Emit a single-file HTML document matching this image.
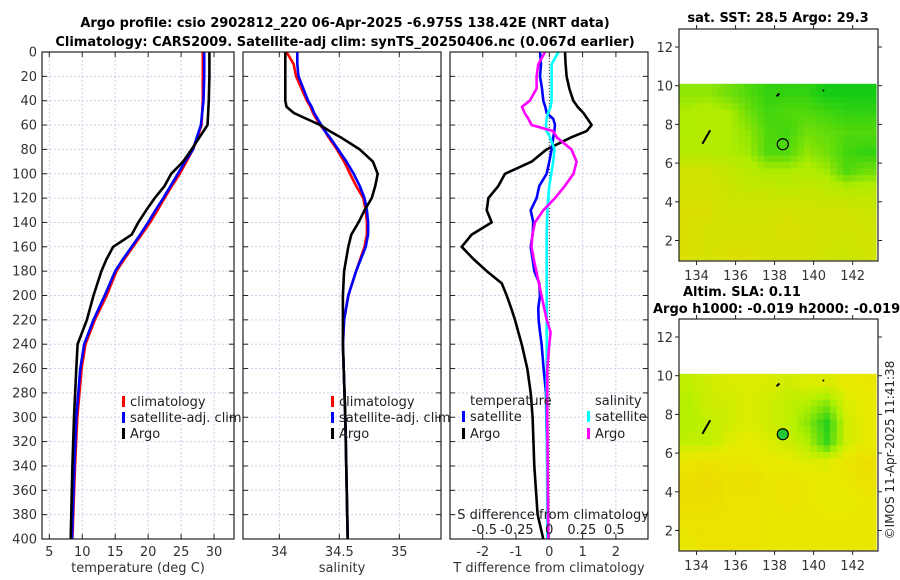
<!DOCTYPE html>
<html><head><meta charset="utf-8"><style>
body{margin:0;background:#fff}
svg{display:block;font-family:"DejaVu Sans","Liberation Sans",sans-serif}
</style></head><body>
<svg id="c" width="900" height="580" viewBox="0 0 900 580" xmlns="http://www.w3.org/2000/svg">
<text x="345" y="27" font-size="13" font-weight="bold" text-anchor="middle" fill="#000">Argo profile: csio 2902812_220 06-Apr-2025 -6.975S 138.42E (NRT data)</text>
<text x="345" y="46" font-size="13" font-weight="bold" text-anchor="middle" fill="#000">Climatology: CARS2009. Satellite-adj clim: synTS_20250406.nc (0.067d earlier)</text>
<text x="778" y="22" font-size="13" font-weight="bold" text-anchor="middle">sat. SST: 28.5 Argo: 29.3</text>
<text x="683" y="296" font-size="13" font-weight="bold">Altim. SLA: 0.11</text>
<text x="653" y="313" font-size="13" font-weight="bold">Argo h1000: -0.019 h2000: -0.019</text>
<text transform="translate(894,450) rotate(-90)" font-size="12" text-anchor="middle" fill="#222">©IMOS 11-Apr-2025 11:41:38</text>
<g id="g"></g>
</svg>
<script>
// ---- profile data ----
const tDepth=[0,20,40,60,70,80,90,100,110,120,130,140,150,160,170,180,200,220,240,260,300,340,400];
const tArgo=[29.3,29.3,29.2,29.0,27.8,26.6,25.3,23.5,22.5,21.0,19.7,18.5,17.5,14.7,13.7,12.9,11.7,10.7,9.3,9.1,8.75,8.5,8.25];
const tClim=[28.3,28.3,28.3,28.1,27.5,26.8,25.8,24.8,23.6,22.5,21.4,20.3,19.0,17.7,16.4,15.2,13.7,11.9,10.5,9.9,9.25,8.9,8.5];
const tSat=[28.5,28.5,28.4,28.0,27.4,26.8,25.6,24.5,23.4,22.3,21.1,20.0,18.8,17.5,16.2,15.0,13.4,11.7,10.3,9.7,9.1,8.8,8.45];
const sDepth=[0,10,20,40,45,50,55,60,65,70,80,90,100,110,120,130,140,150,160,180,200,220,240,300,400];
const sArgo=[34.05,34.05,34.05,34.05,34.06,34.12,34.23,34.34,34.42,34.51,34.67,34.78,34.82,34.80,34.77,34.71,34.66,34.60,34.575,34.54,34.53,34.53,34.53,34.55,34.57];
const sClim=[34.06,34.12,34.14,34.23,34.26,34.28,34.31,34.34,34.38,34.41,34.48,34.54,34.59,34.64,34.70,34.72,34.73,34.73,34.71,34.64,34.575,34.54,34.53,34.55,34.57];
const sSat=[34.15,34.15,34.16,34.24,34.27,34.29,34.32,34.35,34.38,34.42,34.49,34.56,34.62,34.67,34.71,34.73,34.74,34.74,34.72,34.64,34.575,34.54,34.53,34.55,34.57];
const dDepth=[0,10,20,30,40,45,50,55,60,65,70,80,90,100,110,120,130,140,150,160,170,180,190,200,210,220,230,240,260,280,300,340,380,400];
const dTArgo=[0.47,0.49,0.52,0.6,0.72,0.85,1.02,1.15,1.27,1.12,0.67,-0.08,-0.53,-1.33,-1.53,-1.83,-1.88,-1.73,-2.33,-2.63,-2.28,-1.88,-1.43,-1.28,-1.15,-1.03,-0.93,-0.83,-0.66,-0.56,-0.5,-0.45,-0.35,-0.18];
const dTSat=[-0.28,-0.25,-0.28,-0.22,-0.18,-0.12,-0.08,0.12,0.17,0.15,0.12,0.07,0.0,-0.08,-0.3,-0.38,-0.56,-0.48,-0.5,-0.56,-0.5,-0.45,-0.3,-0.28,-0.33,-0.32,-0.28,-0.23,-0.17,-0.1,-0.09,-0.06,-0.04,-0.03];
const dSSat=[0.07,0.018,0.018,0.018,0.018,0.01,-0.01,-0.02,-0.026,-0.02,0.005,0.04,0.03,0.015,0,-0.008,-0.015,-0.018,-0.02,-0.02,-0.02,-0.02,-0.02,-0.02,-0.02,-0.02,-0.02,-0.02,-0.02,-0.02,-0.02,-0.018,-0.016,-0.015];
const dSArgo=[-0.033,-0.085,-0.098,-0.098,-0.15,-0.21,-0.19,-0.16,-0.137,0.03,0.057,0.17,0.21,0.186,0.12,0.044,-0.046,-0.11,-0.13,-0.137,-0.12,-0.1,-0.08,-0.06,-0.04,-0.02,0.01,0.0,-0.015,-0.015,-0.015,-0.012,-0.01,-0.008];
const depthTicks=[0,20,40,60,80,100,120,140,160,180,200,220,240,260,280,300,320,340,360,380,400];
const tTicks=[5,10,15,20,25,30];
const sTicks=[34,34.5,35];
const dTTicks=[-2,-1,0,1,2];
const dSTicks=["-0.5","-0.25","0","0.25","0.5"];
// ---- map data (rows lat 10->1, cols 133.1->143.2) ----
const sstGrid=[
[0.6,0.6,0.7,0.8,0.9,0.9,0.9,1,1,1],
[0.5,0.45,0.5,0.7,0.85,0.8,0.8,0.85,0.9,0.9],
[0.5,0.45,0.5,0.6,0.8,0.85,0.7,0.75,0.8,0.8],
[0.45,0.45,0.5,0.55,0.8,0.8,0.6,0.7,0.85,0.9],
[0.2,0.2,0.3,0.4,0.5,0.5,0.45,0.55,0.8,0.7],
[0.15,0.15,0.25,0.3,0.3,0.35,0.3,0.35,0.4,0.4],
[0.1,0.1,0.2,0.2,0.2,0.15,0.2,0.2,0.2,0.25],
[0.1,0.15,0.15,0.15,0.15,0.1,0.15,0.2,0.2,0.2],
[0.1,0.15,0.1,0.1,0.15,0.15,0.15,0.2,0.25,0.2]];
const slaGrid=[
[0.55,0.5,0.45,0.45,0.45,0.5,0.45,0.45,0.4,0.35],
[0.6,0.5,0.5,0.45,0.5,0.55,0.6,0.7,0.45,0.4],
[0.6,0.55,0.5,0.45,0.5,0.55,0.7,0.95,0.5,0.4],
[0.55,0.55,0.45,0.4,0.45,0.5,0.6,0.9,0.5,0.4],
[0.35,0.3,0.35,0.35,0.4,0.4,0.45,0.45,0.35,0.25],
[0.25,0.2,0.3,0.25,0.35,0.3,0.35,0.4,0.35,0.3],
[0.25,0.25,0.3,0.3,0.35,0.3,0.35,0.4,0.4,0.35],
[0.3,0.3,0.3,0.3,0.35,0.35,0.35,0.35,0.35,0.35],
[0.35,0.3,0.3,0.3,0.35,0.35,0.35,0.35,0.35,0.35]];
const lonTicks=[134,136,138,140,142];
const latTicks=[2,4,6,8,10,12];
const argoLon=138.42, argoLat=6.975;

const NS="http://www.w3.org/2000/svg";
const G=document.getElementById('g');
function mk(tag,at,parent){const e=document.createElementNS(NS,tag);for(const k in at)e.setAttribute(k,at[k]);(parent||G).appendChild(e);return e;}
const Y0=52,Y1=539;
const yD=d=>Y0+(Y1-Y0)*d/400;

function panel(name,x0,x1,fx,xticks,xlabels,xlabel){
  const g=mk('g',{});
  
  
  for(const d of depthTicks){const l=mk('line',{x1:x0,x2:x1,y1:yD(d),y2:yD(d),stroke:'#cdd0ea','stroke-width':1,'stroke-dasharray':'2,2'},g);}
  xticks.forEach(v=>{const l=mk('line',{x1:fx(v),x2:fx(v),y1:Y0,y2:Y1,stroke:'#cdd0ea','stroke-width':1,'stroke-dasharray':'2,2'},g);});
  for(const d of depthTicks){mk('line',{x1:x0,x2:x0+5,y1:yD(d),y2:yD(d),stroke:'#222'},g);mk('line',{x1:x1-5,x2:x1,y1:yD(d),y2:yD(d),stroke:'#222'},g);}
  xticks.forEach((v,i)=>{mk('line',{x1:fx(v),x2:fx(v),y1:Y1-5,y2:Y1,stroke:'#222'},g);mk('line',{x1:fx(v),x2:fx(v),y1:Y0,y2:Y0+5,stroke:'#222'},g);
    const t=mk('text',{x:fx(v),y:556,'font-size':13,'text-anchor':'middle',fill:'#333'},g);t.textContent=xlabels[i];});
  const xl=mk('text',{x:(x0+x1)/2,y:572,'font-size':13,'text-anchor':'middle',fill:'#333'},g);xl.textContent=xlabel;
  
  return g;
}
function frame(x0,x1){mk('rect',{x:x0,y:Y0,width:x1-x0,height:Y1-Y0,fill:'none',stroke:'#222','stroke-width':1.2});}
function line(depths,vals,fx,color,name){
  const pts=depths.map((d,i)=>fx(vals[i]).toFixed(1)+','+yD(d).toFixed(1)).join(' ');
  const p=mk('polyline',{points:pts,fill:'none',stroke:color,'stroke-width':2.6,'stroke-linejoin':'round'});
  
}
function legend(x,y,color,label,name){
  mk('rect',{x:x,y:y-10,width:3,height:11,fill:color});
  const t=mk('text',{x:x+8,y:y,'font-size':13,fill:'#222'});t.textContent=label;
  
}
for(const d of depthTicks){const t=mk('text',{x:37,y:yD(d)+4.5,'font-size':13,'text-anchor':'end',fill:'#333'});t.textContent=d;}

const fT=v=>49.3+(v-5)*6.59;
panel('temperature-panel',42,234,fT,tTicks,tTicks.map(String),'temperature (deg C)');
line(tDepth,tClim,fT,'#f00','temp-climatology-line');
line(tDepth,tSat,fT,'#00f','temp-satellite-line');
line(tDepth,tArgo,fT,'#000','temp-argo-line');
frame(42,234);
legend(122,406,'#f00','climatology','legend-climatology');
legend(122,422,'#00f','satellite-adj. clim','legend-satellite');
legend(122,438,'#000','Argo','legend-argo');

const fS=v=>279.3+(v-34)*120;
panel('salinity-panel',243,441,fS,sTicks,['34','34.5','35'],'salinity');
line(sDepth,sClim,fS,'#f00','sal-climatology-line');
line(sDepth,sSat,fS,'#00f','sal-satellite-line');
line(sDepth,sArgo,fS,'#000','sal-argo-line');
frame(243,441);
legend(331,406,'#f00','climatology','legend-climatology');
legend(331,422,'#00f','satellite-adj. clim','legend-satellite');
legend(331,438,'#000','Argo','legend-argo');

const fDT=v=>549.3+v*33.3;
const fDS=v=>549.3+v*130;
panel('difference-panel',450,648,fDT,dTTicks,dTTicks.map(String),'T difference from climatology');
mk('line',{x1:549.3,x2:549.3,y1:Y0,y2:Y1,stroke:'#333','stroke-width':1,'stroke-dasharray':'1,2'});
line(dDepth,dTArgo,fDT,'#000','tdiff-argo-line');
line(dDepth,dTSat,fDT,'#00f','tdiff-satellite-line');
line(dDepth,dSSat,fDS,'#0ff','sdiff-satellite-line');
line(dDepth,dSArgo,fDS,'#f0f','sdiff-argo-line');
frame(450,648);
{const t=mk('text',{x:470,y:405,'font-size':13,fill:'#222'});t.textContent='temperature';}
{const t=mk('text',{x:595,y:405,'font-size':13,fill:'#222'});t.textContent='salinity';}
legend(462,421,'#00f','satellite','legend-t-satellite');
legend(462,438,'#000','Argo','legend-t-argo');
legend(587,421,'#0ff','satellite','legend-s-satellite');
legend(587,438,'#f0f','Argo','legend-s-argo');
{const t=mk('text',{x:649,y:519,'font-size':13,'text-anchor':'end',fill:'#222'});t.textContent='S difference from climatology';}
dSTicks.forEach(s=>{const t=mk('text',{x:fDS(parseFloat(s)),y:534,'font-size':13,'text-anchor':'middle',fill:'#222'});t.textContent=s;});

// ---- maps ----
const MX0=679,MX1=878,LON0=133.1,LON1=143.3;
const mx=l=>MX0+(l-LON0)*(MX1-MX0)/(LON1-LON0);
function lerp(a,b,t){return a.map((v,i)=>Math.round(v+(b[i]-v)*t));}
function sstColor(v){const Yl=[228,222,0],L=[176,236,0],Gr=[20,204,20];return 'rgb('+(v<0.5?lerp(Yl,L,v/0.5):lerp(L,Gr,(v-0.5)/0.5)).join(',')+')';}
function slaColor(v){const O=[242,204,0],Yl=[232,234,0],L=[180,240,0],Gr=[20,204,30];let c;if(v<0.4)c=lerp(O,Yl,v/0.4);else if(v<0.6)c=lerp(Yl,L,(v-0.4)/0.2);else c=lerp(L,Gr,(v-0.6)/0.4);return 'rgb('+c.join(',')+')';}
function sample(grid,r,c){
  // bilinear sample at fractional cell coordinates (cell centres at integer+0.5)
  const R=grid.length,C=grid[0].length;
  let y=Math.min(Math.max(r-0.5,0),R-1),x=Math.min(Math.max(c-0.5,0),C-1);
  const y0=Math.floor(y),x0=Math.floor(x),y1=Math.min(y0+1,R-1),x1=Math.min(x0+1,C-1);
  const fy=y-y0,fx=x-x0;
  return grid[y0][x0]*(1-fx)*(1-fy)+grid[y0][x1]*fx*(1-fy)+grid[y1][x0]*(1-fx)*fy+grid[y1][x1]*fx*fy;
}
function map(name,top,grid,colorFn,fillMarker){
  const my=la=>top+18+(12-la)*19.35;
  const g=mk('g',{});
  const SUB=3,R=grid.length,C=grid[0].length;
  const cw=(LON1-LON0-0.1)/C/SUB, ch=9.1/R/SUB;
  for(let r=0;r<R*SUB;r++)for(let c=0;c<C*SUB;c++){
    const v=sample(grid,(r+0.5)/SUB,(c+0.5)/SUB);
    const la=10.1-r*ch, lo=LON0+c*cw;
    const cell=mk('rect',{x:mx(lo).toFixed(1),y:my(la).toFixed(1),width:(mx(lo+cw)-mx(lo)+0.5).toFixed(1),height:(ch*19.35+0.5).toFixed(1),fill:colorFn(v)},g);
    
  }
  mk('path',{d:`M${mx(134.3)},${my(7.0)} L${mx(134.7)},${my(7.7)}`,stroke:'#000','stroke-width':2},g);
  mk('path',{d:`M${mx(138.1)},${my(9.45)} L${mx(138.25)},${my(9.6)}`,stroke:'#000','stroke-width':2},g);
  mk('circle',{cx:mx(140.5),cy:my(9.75),r:1,fill:'#000'},g);
  const m=mk('circle',{cx:mx(argoLon),cy:my(argoLat),r:5.5,fill:fillMarker,stroke:'#000','stroke-width':1.2},g);
  
  mk('rect',{x:MX0,y:top,width:MX1-MX0,height:232,fill:'none',stroke:'#222','stroke-width':1.2},g);
  lonTicks.forEach(l=>{mk('line',{x1:mx(l),x2:mx(l),y1:top+232,y2:top+236,stroke:'#222'},g);mk('line',{x1:mx(l),x2:mx(l),y1:top,y2:top-4,stroke:'#222'},g);
    const t=mk('text',{x:mx(l),y:top+251,'font-size':13,'text-anchor':'middle',fill:'#333'},g);t.textContent=l;});
  latTicks.forEach(la=>{mk('line',{x1:MX0,x2:MX0-4,y1:my(la),y2:my(la),stroke:'#222'},g);mk('line',{x1:MX1,x2:MX1+4,y1:my(la),y2:my(la),stroke:'#222'},g);
    const t=mk('text',{x:673,y:my(la)+5,'font-size':13,'text-anchor':'end',fill:'#333'},g);t.textContent=la;});
}
map('sst-map',29,sstGrid,sstColor,'none');
map('sla-map',319,slaGrid,slaColor,'#22c832');
</script>
</body></html>
